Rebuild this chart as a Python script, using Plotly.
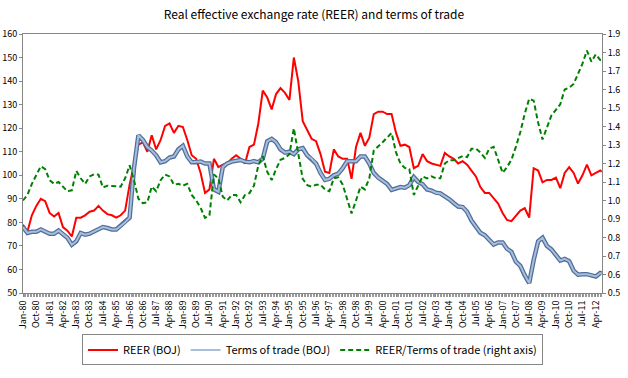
import pandas as pd
import plotly.graph_objects as go

# Quarterly observation dates (Jan/Apr/Jul/Oct 1980 .. Jul 2012) plus last month Aug-2012
dates = list(pd.date_range("1980-01-01", "2012-07-01", freq="QS").strftime("%Y-%m-%d")) + ["2012-08-01"]

reer = [79, 76, 83, 87, 90, 89, 84, 82.5, 84, 78, 76.5, 74,
        82, 82, 83, 84.5, 85, 87, 85, 83.5, 83, 82, 83, 85,
        96, 104, 113, 114, 110, 117, 111, 115, 121, 122, 118, 121,
        120.5, 115, 108.5, 107, 101, 92.5, 94, 107, 103.5, 104.5, 105, 107,
        108.5, 107, 105, 112, 113, 122, 136, 133, 128, 134.5, 137, 135,
        132, 150, 140, 123, 119, 115.5, 114.5, 109, 101.5, 101, 111, 108,
        107, 107, 98.5, 112, 118, 112.5, 116, 126, 127, 127, 126, 126,
        118, 112.5, 113, 112, 103, 104, 109, 106, 105, 104.5, 104, 109.5,
        108, 107, 105, 106, 104.5, 102, 99.5, 95, 92.5, 92.5, 90, 88,
        84, 81, 80.5, 83, 85, 86, 82, 103, 102, 97, 98, 98,
        99, 94.5, 101, 103.5, 101, 96.5, 100, 104.5, 100, 101, 102, 101.5]

tot = [78, 75.5, 76, 76, 77, 76, 75.2, 75.2, 76.5, 75, 73.5, 70.5,
       72, 75.5, 74.8, 75.2, 76.2, 77, 78, 77.6, 77, 77, 78.5, 80,
       82, 103, 117, 115, 112, 110.5, 108.5, 105.5, 106, 107.5, 108, 111,
       112.5, 108, 105.5, 105.5, 105.8, 105, 105, 94, 93, 103.5, 105, 105.8,
       106, 106.5, 105.8, 105.5, 106, 105.5, 107, 114.4, 115.4, 114, 111, 109.6,
       110, 109, 111, 111.5, 108.5, 107, 105, 101, 98, 98.5, 100, 100.7,
       103, 106, 106, 106, 108, 108, 105, 101, 99, 97.5, 96.3, 93.8,
       94.4, 95, 94.7, 95.8, 99.2, 97.2, 96.2, 94, 93.5, 92.6, 92.3, 91.2,
       89.8, 88.2, 86.7, 86.5, 84.5, 80.8, 78, 75.6, 74.5, 72.5, 70.6, 71.5,
       71.5, 68.8, 67.5, 63.3, 61.5, 57.5, 54.2, 64, 72, 73.5, 70, 68.5,
       66.3, 63.8, 64.5, 63.5, 59.5, 57.8, 58, 58, 57.5, 57, 58.5, 58.3]

ratio = [1.0, 1.03, 1.09, 1.14, 1.185, 1.17, 1.11, 1.09, 1.10, 1.075, 1.05, 1.055,
         1.16, 1.12, 1.09, 1.13, 1.142, 1.14, 1.07, 1.08, 1.077, 1.075, 1.075, 1.12,
         1.19, 1.11, 1.01, 0.985, 0.99, 1.075, 1.05, 1.11, 1.14, 1.13, 1.085, 1.09,
         1.08, 1.09, 1.03, 1.0, 0.96, 0.906, 0.92, 1.14, 1.12, 1.02, 1.0, 1.03,
         1.03, 0.99, 1.03, 1.04, 1.08, 1.19, 1.24, 1.155, 1.11, 1.17, 1.22, 1.23,
         1.25, 1.39, 1.244, 1.117, 1.083, 1.075, 1.085, 1.085, 1.06, 1.05, 1.12, 1.125,
         1.085, 1.01, 0.93, 1.0, 1.075, 1.06, 1.12, 1.27, 1.29, 1.315, 1.34, 1.365,
         1.26, 1.20, 1.176, 1.17, 1.03, 1.083, 1.13, 1.12, 1.13, 1.12, 1.12, 1.20,
         1.218, 1.218, 1.227, 1.24, 1.235, 1.28, 1.28, 1.26, 1.23, 1.28, 1.29, 1.22,
         1.15, 1.18, 1.22, 1.29, 1.37, 1.47, 1.55, 1.54, 1.42, 1.33, 1.40, 1.46,
         1.49, 1.52, 1.60, 1.61, 1.63, 1.68, 1.74, 1.81, 1.75, 1.79, 1.76, 1.76]

series_names = ["REER (BOJ)", "Terms of trade (BOJ)", "REER/Terms of trade (right axis)"]
title_text = "Real effective exchange rate (REER) and terms of trade"

FONT = "Noto Sans CJK JP"
AXIS_COL = "#868686"

fig = go.Figure()
fig.add_trace(go.Scatter(x=dates, y=reer, name=series_names[0], mode="lines",
                         line=dict(color="#FF0000", width=2)))
fig.add_trace(go.Scatter(x=dates, y=tot, mode="lines", showlegend=False, hoverinfo="skip",
                         line=dict(color="#4F6E9C", width=4.5)))
fig.add_trace(go.Scatter(x=dates, y=tot, name=series_names[1], mode="lines",
                         line=dict(color="#A9BEDA", width=2)))
fig.add_trace(go.Scatter(x=dates, y=ratio, name=series_names[2], mode="lines", yaxis="y2",
                         line=dict(color="#008000", width=2, dash="5px,3px")))

fig.update_layout(
    width=628, height=378,
    margin=dict(l=23, r=26, t=34, b=69),
    paper_bgcolor="white", plot_bgcolor="white",
    font=dict(family=FONT, size=9, color="black"),
    title=dict(text=title_text, x=0.5, xanchor="center", y=1 - 15 / 378, yanchor="middle",
               font=dict(family=FONT, size=12, color="black")),
    showlegend=True,
    legend=dict(orientation="h", x=0.5, xanchor="center", y=-0.16, yanchor="top",
                bordercolor=AXIS_COL, borderwidth=1, font=dict(family=FONT, size=11),
                bgcolor="white", itemwidth=30),
    xaxis=dict(type="date", range=["1980-01-01", "2012-08-06"], tick0="1980-01-01", dtick="M9",
               tickformat="%b-%y", tickangle=-90, ticks="outside", ticklen=3, tickcolor=AXIS_COL,
               showline=True, linecolor=AXIS_COL, linewidth=1, mirror=True, showgrid=False,
               zeroline=False, tickfont=dict(size=9), automargin=False,
               minor=dict(dtick="M1", ticks="outside", ticklen=3, tickcolor="#9a9a9a", showgrid=False)),
    yaxis=dict(range=[50, 160], dtick=10, ticks="outside", ticklen=3, tickcolor=AXIS_COL,
               showline=True, linecolor=AXIS_COL, linewidth=1, showgrid=False, zeroline=False,
               tickfont=dict(size=9), automargin=False),
    yaxis2=dict(overlaying="y", side="right", range=[0.5, 1.9], dtick=0.1, tickformat=".1f",
                ticks="outside", ticklen=3, tickcolor=AXIS_COL, showline=True, linecolor=AXIS_COL,
                linewidth=1, showgrid=False, zeroline=False, tickfont=dict(size=9), automargin=False),
)

fig.write_html("out.html", config={"displayModeBar": False},
               post_script="document.body.style.margin='0px';document.body.style.overflow='hidden';")
